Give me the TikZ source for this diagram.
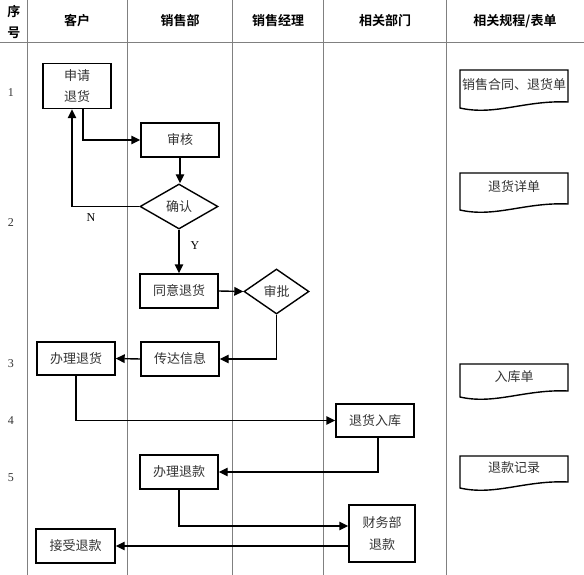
\documentclass[tikz,border=0pt]{standalone}
\usepackage{fontspec}
\setmainfont{Liberation Serif}
\newfontfamily\cjk{Noto Sans CJK SC}[BoldFont={Noto Sans CJK SC Bold}]
\usetikzlibrary{arrows.meta,shapes.geometric}
\tikzset{
  grid/.style={draw=black!50, line width=1pt},
  box/.style={draw=black, line width=1.4pt, rectangle, inner sep=0pt, font=\cjk\fontsize{13}{17}\selectfont, text=black!80, align=center},
  dia/.style={draw=black, line width=1.4pt, diamond, inner sep=0pt, font=\cjk\fontsize{13}{15}\selectfont, text=black!80},
  flow/.style={draw=black, line width=1.4pt, -{Triangle[length=9pt,width=8.5pt]}},
  head/.style={font=\cjk\bfseries\fontsize{13}{15}\selectfont, text=black},
  rownum/.style={font=\fontsize{12}{14}\selectfont, text=black!80},
  lbl/.style={font=\fontsize{12}{14}\selectfont, text=black},
  doctext/.style={font=\cjk\fontsize{13}{15}\selectfont, text=black!80, inner sep=0pt},
  docline/.style={draw=black, line width=1.4pt}
}
\newcommand\docbox[5]{%
  \node[doctext] (#1) at (514,#4) {#5};
  \draw[docline] (460,#2) -- (568,#2) -- (568,{#2+#3-6}) .. controls (525,{#2+#3-8}) and (495,{#2+#3+8}) .. (460,{#2+#3}) -- cycle;}
\begin{document}
\begin{tikzpicture}[x=1pt,y=-1pt]
\useasboundingbox (0,0) rectangle (584,575);
% grid
\foreach \gx in {27,127,232,323,446} \draw[grid] (\gx,0) -- (\gx,575);
\draw[grid] (0,43) -- (584,43);
% headers
\node[head] (hxu) at (14,12) {序};
\node[head] (hhao) at (14,33) {号};
\node[head] (hkh) at (77,21) {客户};
\node[head] (hxs) at (180,21) {销售部};
\node[head] (hjl) at (278,21) {销售经理};
\node[head] (hbm) at (385,21) {相关部门};
\node[head] (hgc) at (515,21) {相关规程/表单};
% row numbers
\node[rownum] (r1) at (11,93) {1};
\node[rownum] (r2) at (11,223) {2};
\node[rownum] (r3) at (11,364) {3};
\node[rownum] (r4) at (11,421) {4};
\node[rownum] (r5) at (11,478) {5};
% nodes
\node[box, minimum width=68pt, minimum height=45pt, font=\cjk\fontsize{13}{21}\selectfont] (req) at (77,86) {申请\\退货};
\node[box, minimum width=78pt, minimum height=34pt] (audit) at (180,140) {审核};
\node[dia, minimum width=78pt, minimum height=45pt, aspect=1.73] (confirm) at (179,206.5) {确认};
\node[box, minimum width=78pt, minimum height=34pt] (agree) at (179,291) {同意退货};
\node[dia, minimum width=65pt, minimum height=45pt, aspect=1.44] (approve) at (276.5,291.5) {审批};
\node[box, minimum width=78pt, minimum height=34pt] (convey) at (180,359) {传达信息};
\node[box, minimum width=78pt, minimum height=33pt] (handle) at (76,358.5) {办理退货};
\node[box, minimum width=78pt, minimum height=33pt] (stock) at (375,420.5) {退货入库};
\node[box, minimum width=78pt, minimum height=34pt] (refund) at (179,472) {办理退款};
\node[box, minimum width=66pt, minimum height=57pt, font=\cjk\fontsize{13}{22}\selectfont] (finance) at (382,533.5) {财务部\\退款};
\node[box, minimum width=79pt, minimum height=34pt] (accept) at (75.5,546) {接受退款};
% documents
\docbox{d1}{70}{38}{85}{销售合同、退货单}
\docbox{d2}{173}{37}{187}{退货详单}
\docbox{d3}{364}{33}{377}{入库单}
\docbox{d4}{456}{32}{468}{退款记录}
% connectors
\draw[flow] ([xshift=6pt]req.south) |- (audit.west);
\draw[flow] (audit.south) -- (audit.south |- confirm.north);
\draw[flow] (confirm.west) -| ([xshift=-5pt]req.south);
\node[lbl] (lN) at (91,218) {N};
\draw[flow] (confirm.south) -- (confirm.south |- agree.north);
\node[lbl] (lY) at (195,246) {Y};
\draw[flow] (agree.east) -- (approve.west);
\draw[flow] (approve.south) |- (convey.east);
\draw[flow] (convey.west) -- (handle.east);
\draw[flow] (handle.south) |- (stock.west);
\draw[flow] ([xshift=3pt]stock.south) |- (refund.east);
\draw[flow] (refund.south) |- ([yshift=7.5pt]finance.west);
\draw[flow] (finance.west |- accept.east) -- (accept.east);
\end{tikzpicture}
\end{document}
